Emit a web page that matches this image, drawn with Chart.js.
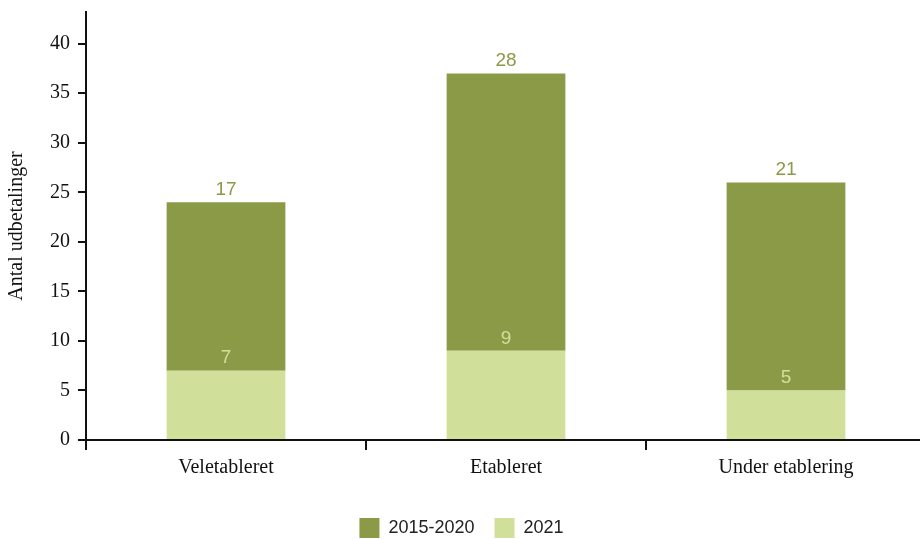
<!DOCTYPE html>
<html>
<head>
<meta charset="utf-8">
<script src="https://cdn.jsdelivr.net/npm/chart.js@4/dist/chart.umd.min.js"></script>
<style>
html,body{margin:0;padding:0;background:#fff;}
#wrap{width:920px;height:539px;position:relative;overflow:hidden;}
canvas{display:block;position:absolute;left:-3px;top:-8px;}
</style>
</head>
<body>
<div id="wrap"><canvas id="c" width="929" height="557"></canvas></div>
<script>
const categories = ['Veletableret', 'Etableret', 'Under etablering'];
const series2021 = [7, 9, 5];
const series2015_2020 = [17, 28, 21];
const seriesNames = ['2021', '2015-2020'];
const yTicks = [0, 5, 10, 15, 20, 25, 30, 35, 40];

const DARK = '#8A9A47';
const LIGHT = '#D0E09B';
const SERIF = '"Liberation Serif", "DejaVu Serif", serif';
const SANS = '"Liberation Sans", Arial, sans-serif';

const labelPlugin = {
  id: 'barLabels',
  afterDatasetsDraw(chart) {
    const ctx = chart.ctx;
    ctx.save();
    ctx.font = '19px ' + SANS;
    ctx.textAlign = 'center';
    ctx.textBaseline = 'bottom';
    chart.data.datasets.forEach((ds, i) => {
      const meta = chart.getDatasetMeta(i);
      ctx.fillStyle = i === 0 ? LIGHT : DARK;
      meta.data.forEach((bar, j) => {
        ctx.fillText(String(ds.data[j]), bar.x, bar.y - 3);
      });
    });
    ctx.restore();
  }
};

new Chart(document.getElementById('c'), {
  type: 'bar',
  data: {
    labels: categories,
    datasets: [
      { label: seriesNames[0], data: series2021, backgroundColor: LIGHT, borderWidth: 0 },
      { label: seriesNames[1], data: series2015_2020, backgroundColor: DARK, borderWidth: 0 }
    ]
  },
  options: {
    responsive: false,
    animation: false,
    devicePixelRatio: 1,
    layout: { autoPadding: false, padding: { top: 2, right: 0, left: 0, bottom: 1 } },
    datasets: { bar: { barPercentage: 0.424, categoryPercentage: 1 } },
    plugins: {
      legend: {
        position: 'bottom',
        reverse: true,
        labels: {
          boxWidth: 20, boxHeight: 20, padding: 20,
          color: '#222',
          font: { family: SANS, size: 18 }
        }
      },
      tooltip: { enabled: false }
    },
    scales: {
      x: {
        stacked: true,
        offset: true,
        afterFit(scale) { scale.height = 58; },
        grid: { display: true, drawOnChartArea: false, drawTicks: true, tickLength: 10, color: '#111', offset: true, lineWidth: 2 },
        border: { display: true, color: '#111', width: 2 },
        ticks: { color: '#111', font: { family: SERIF, size: 20 }, padding: 6, maxRotation: 0 }
      },
      y: {
        stacked: true,
        min: 0,
        max: 43.2,
        afterBuildTicks(scale) { scale.ticks = yTicks.map(v => ({ value: v })); },
        afterFit(scale) { scale.width = 89; },
        grid: { display: true, drawOnChartArea: false, drawTicks: true, tickLength: 8, color: '#111', lineWidth: 2 },
        border: { display: true, color: '#111', width: 2 },
        ticks: { color: '#111', font: { family: SERIF, size: 20 }, padding: 8 },
        title: { display: true, text: 'Antal udbetalinger', color: '#111', font: { family: SERIF, size: 20 }, padding: { top: 8, bottom: 0 } }
      }
    }
  },
  plugins: [labelPlugin]
});
</script>
</body>
</html>
